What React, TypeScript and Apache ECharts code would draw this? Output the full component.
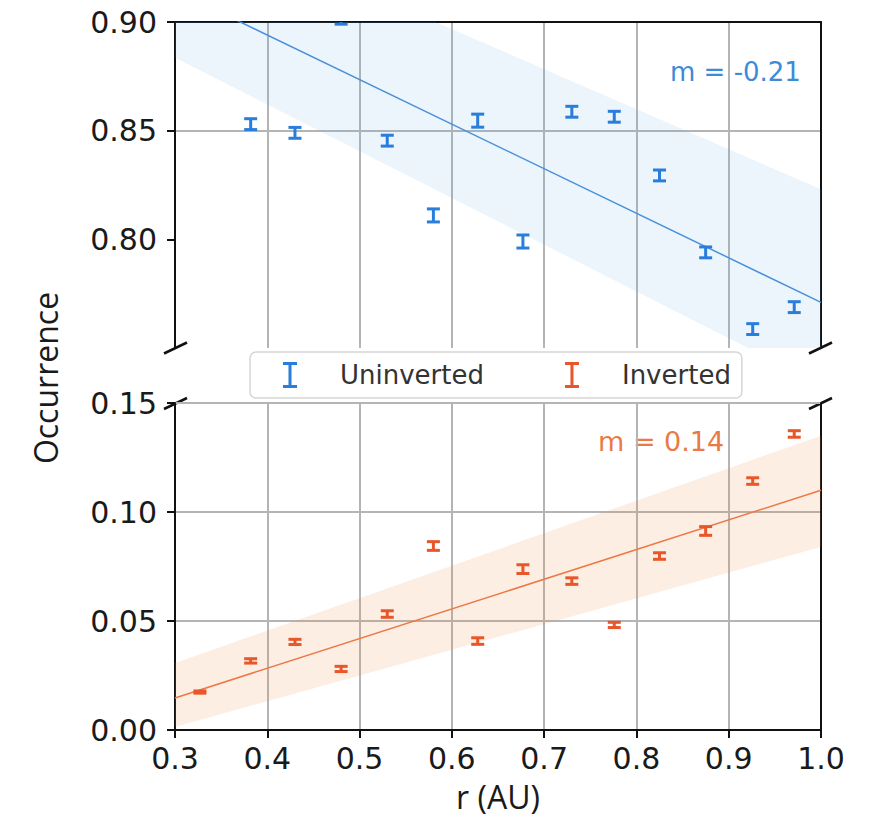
import React, { useEffect, useRef } from 'react';
import * as echarts from 'echarts';

// ---- data ----
const xTickValues = [0.3, 0.4, 0.5, 0.6, 0.7, 0.8, 0.9, 1.0];

const rUninverted = [0.382, 0.43, 0.48, 0.53, 0.58, 0.628, 0.677, 0.73, 0.776, 0.825, 0.875, 0.926, 0.971];
const occUninverted = [0.853, 0.849, 0.9005, 0.8454, 0.811, 0.8546, 0.799, 0.8587, 0.8564, 0.8294, 0.794, 0.7587, 0.7688];
const errUninverted = [0.0025, 0.0025, 0.0015, 0.0025, 0.003, 0.003, 0.003, 0.0025, 0.0025, 0.0025, 0.0025, 0.0025, 0.0025];

const rInverted = [0.327, 0.382, 0.43, 0.48, 0.53, 0.58, 0.628, 0.677, 0.73, 0.776, 0.825, 0.875, 0.926, 0.971];
const occInverted = [0.0174, 0.0317, 0.0404, 0.028, 0.0532, 0.0844, 0.0408, 0.0738, 0.0683, 0.0482, 0.0798, 0.0913, 0.1142, 0.1358];
const errInverted = [0.0005, 0.001, 0.0012, 0.0012, 0.0015, 0.002, 0.0015, 0.002, 0.0015, 0.0012, 0.0015, 0.002, 0.0015, 0.0015];

const fitR = [0.3, 1.0];
const fitUninverted = [0.9145, 0.771];
const bandUninvertedLow = [0.8835, 0.733];
const bandUninvertedHigh = [0.952, 0.823];
const fitInverted = [0.0147, 0.11];
const bandInvertedLow = [0.0014, 0.084];
const bandInvertedHigh = [0.0307, 0.135];

const slopeLabels = ['m = -0.21', 'm = 0.14'];

// ---- style ----
const BLUE = '#2a7edb';
const BLUE_LINE = '#4a90d9';
const BLUE_TEXT = '#3d8ad8';
const ORANGE = '#e9562a';
const ORANGE_LINE = '#ec7845';
const ORANGE_TEXT = '#ea7a45';
const GRID = '#b4b4b4';
const INK = '#1a1a1a';
const TICK_FONT = 'DejaVu Sans';
const TICK_SIZE = 30;

const errRender = (params: any, api: any) => {
  const x = api.value(0);
  const y = api.value(1);
  const e = api.value(2);
  const top = api.coord([x, y + e]);
  const bot = api.coord([x, y - e]);
  const hw = 6.5;
  const style = { stroke: api.visual('color'), lineWidth: 3 };
  return {
    type: 'group',
    children: [
      { type: 'line', shape: { x1: top[0], y1: top[1], x2: bot[0], y2: bot[1] }, style },
      { type: 'line', shape: { x1: top[0] - hw, y1: top[1], x2: top[0] + hw, y2: top[1] }, style },
      { type: 'line', shape: { x1: bot[0] - hw, y1: bot[1], x2: bot[0] + hw, y2: bot[1] }, style },
    ],
  };
};

const bandRender = (fill: string) => (params: any, api: any) => {
  const n = params.dataInsideLength;
  if (params.dataIndex >= n - 1) return null;
  const i = params.dataIndex;
  const x0 = api.value(0, i);
  const lo0 = api.value(1, i);
  const hi0 = api.value(2, i);
  const x1 = api.value(0, i + 1);
  const lo1 = api.value(1, i + 1);
  const hi1 = api.value(2, i + 1);
  const pts = [api.coord([x0, hi0]), api.coord([x1, hi1]), api.coord([x1, lo1]), api.coord([x0, lo0])];
  return { type: 'polygon', shape: { points: pts }, style: { fill } };
};

const ICON = 'path://M0,0L14,0L14,3L8.5,3L8.5,23L14,23L14,26L0,26L0,23L5.5,23L5.5,3L0,3Z';

const splitLine = { show: true, showMinLine: false, showMaxLine: false, lineStyle: { color: GRID, width: 2 } };
const axisLine = { show: true, lineStyle: { color: '#111', width: 2 } };
const axisTick = { show: true, length: 8, inside: false, lineStyle: { color: '#111', width: 2 } };

const GL = 175;
const GW = 646;

const option: any = {
  animation: false,
  backgroundColor: '#ffffff',
  grid: [
    { left: GL, top: 22, width: GW, height: 326 },
    { left: GL, top: 403, width: GW, height: 327 },
  ],
  xAxis: [
    {
      gridIndex: 0, type: 'value', min: 0.3, max: 1.0, interval: 0.1, position: 'bottom',
      axisLine: { show: false }, axisTick: { show: false }, axisLabel: { show: false }, splitLine,
    },
    {
      gridIndex: 0, type: 'value', min: 0.3, max: 1.0, interval: 0.1, position: 'top',
      axisLine, axisTick: { show: false }, axisLabel: { show: false }, splitLine: { show: false },
    },
    {
      gridIndex: 1, type: 'value', min: 0.3, max: 1.0, interval: 0.1, position: 'bottom',
      axisLine, axisTick,
      axisLabel: {
        fontFamily: TICK_FONT, fontSize: TICK_SIZE, color: INK, margin: 13,
        formatter: (v: number) => v.toFixed(1),
      },
      splitLine,
      name: 'r (AU)', nameLocation: 'middle', nameGap: 50,
      nameTextStyle: { fontFamily: 'Open Sans', fontSize: 32, color: INK },
    },
  ],
  yAxis: [
    {
      gridIndex: 0, type: 'value', min: 0.75, max: 0.9, interval: 0.05, position: 'left',
      axisLine, axisTick: { ...axisTick, customValues: [0.8, 0.85, 0.9] },
      axisLabel: {
        fontFamily: TICK_FONT, fontSize: TICK_SIZE, color: INK, margin: 18, showMinLabel: false,
        formatter: (v: number) => (v < 0.76 ? '' : v.toFixed(2)),
      },
      splitLine,
    },
    {
      gridIndex: 0, type: 'value', min: 0.75, max: 0.9, position: 'right',
      axisLine, axisTick: { show: false }, axisLabel: { show: false }, splitLine: { show: false },
    },
    {
      gridIndex: 1, type: 'value', min: 0, max: 0.15, interval: 0.05, position: 'left',
      axisLine, axisTick,
      axisLabel: {
        fontFamily: TICK_FONT, fontSize: TICK_SIZE, color: INK, margin: 18,
        formatter: (v: number) => v.toFixed(2),
      },
      splitLine: { show: true, showMinLine: false, showMaxLine: true, lineStyle: { color: GRID, width: 2 } },
    },
    {
      gridIndex: 1, type: 'value', min: 0, max: 0.15, position: 'right',
      axisLine, axisTick: { show: false }, axisLabel: { show: false }, splitLine: { show: false },
    },
  ],
  legend: {
    data: ['Uninverted', 'Inverted'],
    left: 250, top: 352, orient: 'horizontal',
    itemWidth: 14, itemHeight: 26, itemGap: 81,
    padding: [10, 11, 10, 33],
    backgroundColor: 'rgba(255,255,255,0.85)',
    borderColor: '#d6d6d6', borderWidth: 1.5, borderRadius: 6,
    selectedMode: false,
    icon: ICON,
    formatter: (n: string) => `{a|${n}}`,
    textStyle: {
      fontFamily: TICK_FONT, fontSize: 26, color: '#333',
      rich: { a: { fontFamily: TICK_FONT, fontSize: 26, color: '#333', padding: [0, 0, 0, 38] } },
    },
  },
  graphic: [
    {
      type: 'text', x: 45, y: 378, rotation: Math.PI / 2,
      style: { text: 'Occurrence', fontFamily: 'Open Sans', fontSize: 32, fill: INK, align: 'center', verticalAlign: 'middle' },
    },
    {
      type: 'text', x: 670, y: 72,
      style: { text: slopeLabels[0], fontFamily: TICK_FONT, fontSize: 26, fill: BLUE_TEXT, align: 'left', verticalAlign: 'middle' },
    },
    {
      type: 'text', x: 598, y: 441,
      style: { text: slopeLabels[1], fontFamily: TICK_FONT, fontSize: 27, fill: ORANGE_TEXT, align: 'left', verticalAlign: 'middle' },
    },
    { type: 'line', shape: { x1: 164, y1: 353.5, x2: 187, y2: 342.5 }, style: { stroke: '#111', lineWidth: 2.5 } },
    { type: 'line', shape: { x1: 809, y1: 353.5, x2: 832, y2: 342.5 }, style: { stroke: '#111', lineWidth: 2.5 } },
    { type: 'line', shape: { x1: 164, y1: 409, x2: 187, y2: 398 }, style: { stroke: '#111', lineWidth: 2.5 } },
    { type: 'line', shape: { x1: 809, y1: 409, x2: 832, y2: 398 }, style: { stroke: '#111', lineWidth: 2.5 } },
  ],
  series: [
    {
      type: 'custom', name: 'bandU', xAxisIndex: 0, yAxisIndex: 0, clip: true, silent: true, z: 1,
      data: fitR.map((x, i) => [x, bandUninvertedLow[i], bandUninvertedHigh[i]]),
      renderItem: bandRender('rgba(108,175,228,0.13)'),
      encode: { x: 0, y: [1, 2] },
    },
    {
      type: 'line', name: 'fitU', xAxisIndex: 0, yAxisIndex: 0, clip: true, silent: true, z: 2,
      symbol: 'none', data: fitR.map((x, i) => [x, fitUninverted[i]]),
      lineStyle: { color: BLUE_LINE, width: 1.5 },
    },
    {
      type: 'custom', name: 'Uninverted', xAxisIndex: 0, yAxisIndex: 0, clip: true, z: 3,
      itemStyle: { color: BLUE },
      data: rUninverted.map((x, i) => [x, occUninverted[i], errUninverted[i]]),
      renderItem: errRender,
      encode: { x: 0, y: 1 },
    },
    {
      type: 'custom', name: 'bandI', xAxisIndex: 2, yAxisIndex: 2, clip: true, silent: true, z: 1,
      data: fitR.map((x, i) => [x, bandInvertedLow[i], bandInvertedHigh[i]]),
      renderItem: bandRender('rgba(242,142,68,0.15)'),
      encode: { x: 0, y: [1, 2] },
    },
    {
      type: 'line', name: 'fitI', xAxisIndex: 2, yAxisIndex: 2, clip: true, silent: true, z: 2,
      symbol: 'none', data: fitR.map((x, i) => [x, fitInverted[i]]),
      lineStyle: { color: ORANGE_LINE, width: 1.5 },
    },
    {
      type: 'custom', name: 'Inverted', xAxisIndex: 2, yAxisIndex: 2, clip: true, z: 3,
      itemStyle: { color: ORANGE },
      data: rInverted.map((x, i) => [x, occInverted[i], errInverted[i]]),
      renderItem: errRender,
      encode: { x: 0, y: 1 },
    },
  ],
};

export default function App() {
  const ref = useRef<HTMLDivElement>(null);
  useEffect(() => {
    if (!ref.current) return;
    const chart = echarts.init(ref.current, null, { renderer: 'svg' });
    chart.setOption(option);
    return () => chart.dispose();
  }, []);
  return (
    <div
      ref={ref}
      style={{ position: 'fixed', left: 0, top: 0, width: 872, height: 818, background: '#fff' }}
    />
  );
}
